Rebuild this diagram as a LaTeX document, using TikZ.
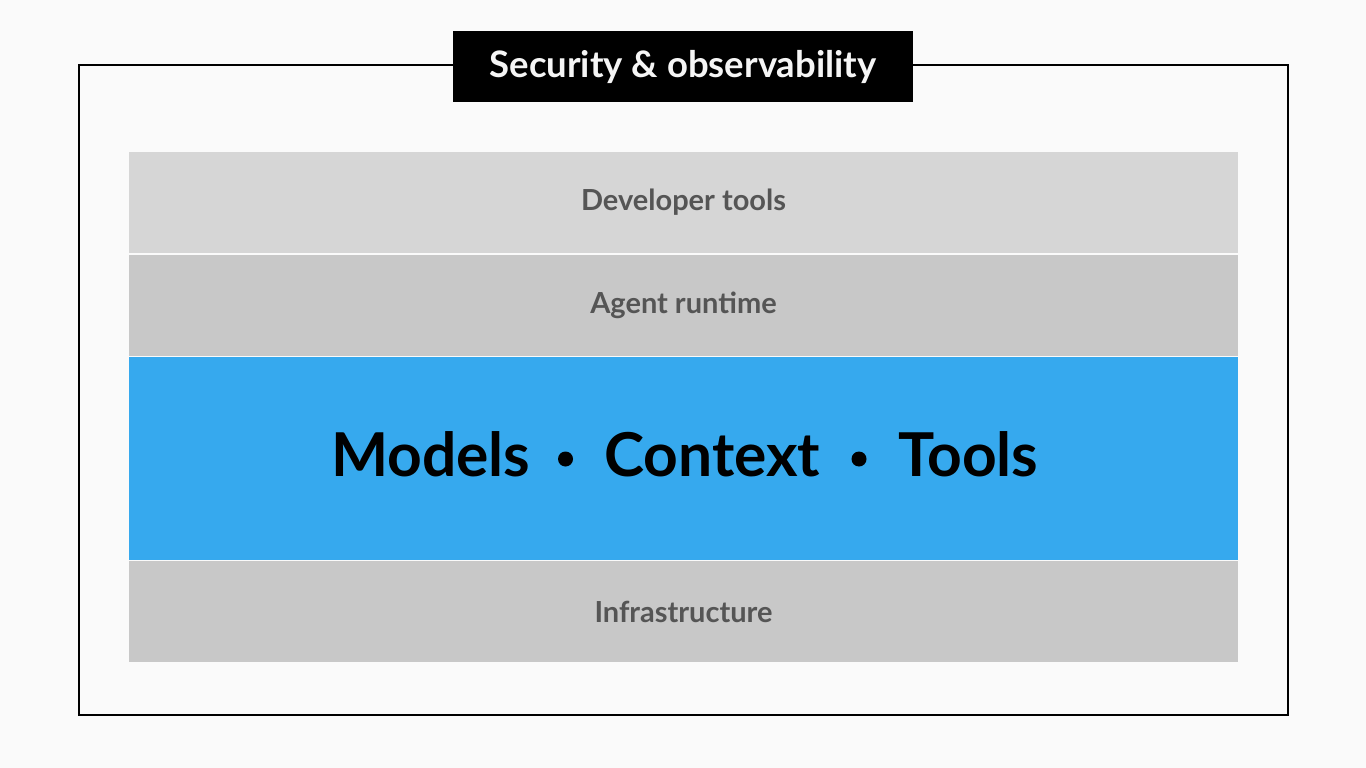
\documentclass[tikz,border=0pt]{standalone}
\usepackage{fontspec}
\setmainfont{Lato}
\definecolor{bgc}{HTML}{FAFAFA}
\definecolor{lightg}{HTML}{D6D6D6}
\definecolor{midg}{HTML}{C8C8C8}
\definecolor{bluec}{HTML}{36A9EE}
\definecolor{txtg}{HTML}{555555}
\tikzset{
  layer/.style={draw=none, inner sep=0pt, outer sep=0pt, minimum width=1109pt, text=txtg, font=\fontsize{29}{34}\selectfont\bfseries},
  bigword/.style={inner sep=0pt, anchor=base west, text=black, font=\fontsize{60.5}{68}\selectfont\bfseries},
  dot/.style={circle, fill=black, inner sep=0pt, minimum size=15pt},
}
\newcommand{\lowered}[1]{\raisebox{-1.5pt}{#1}}
\begin{document}
\begin{tikzpicture}[x=1pt,y=-1pt]
\useasboundingbox (0,0) rectangle (1366,768);
\fill[bgc] (0,0) rectangle (1366,768);
\draw[line width=2pt, black] (79,65) rectangle (1288,715);
\node[layer, fill=lightg, minimum height=101pt] (dev) at (683.5,202.5) {\lowered{Developer tools}};
\node[layer, fill=midg, minimum height=101pt] (agent) at (683.5,305) {\lowered{Agent runtime}};
\node[layer, fill=bluec, minimum height=203pt] (core) at (683.5,458.5) {};
\node[layer, fill=midg, minimum height=101pt] (infra) at (683.5,611.5) {\lowered{Infrastructure}};
\node[fill=black, text={rgb,255:red,245;green,245;blue,245}, inner sep=0pt, minimum width=460pt, minimum height=71pt, font=\fontsize{36.5}{42}\selectfont\bfseries] (sec) at (683,66.5) {Security \& observability};
\node[bigword] (models) at (331,476) {Models};
\node[dot] (b1) at (565.5,459) {};
\node[bigword] (context) at (604,476) {Context};
\node[dot] (b2) at (859,459) {};
\node[bigword] (tools) at (898,476) {Tools};
\end{tikzpicture}
\end{document}
